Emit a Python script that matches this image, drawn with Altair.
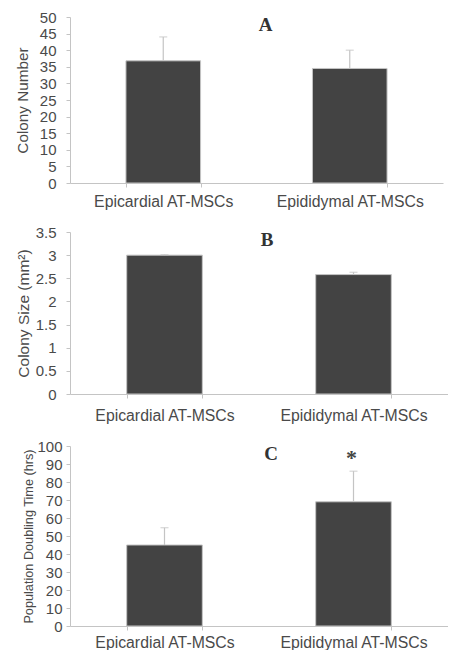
import altair as alt
import pandas as pd

categories = ["Epicardial AT-MSCs", "Epididymal AT-MSCs"]

colony_number = [36.8, 34.5]
colony_number_err = [7.2, 5.5]

colony_size = [3.0, 2.58]
colony_size_err = [0.01, 0.05]

doubling_time = [45, 69]
doubling_time_err = [9.6, 17]
significance = ["", "*"]

y_ticks_a = [0, 5, 10, 15, 20, 25, 30, 35, 40, 45, 50]
y_ticks_b = [0, 0.5, 1, 1.5, 2, 2.5, 3, 3.5]
y_ticks_c = [0, 10, 20, 30, 40, 50, 60, 70, 80, 90, 100]

FONT = "Liberation Sans"
BAR = "#434343"
LIGHT = "#c4c4c4"
TEXT = "#4a4a4a"


def panel(values, errs, ticks, ytitle, letter, w, h, title_size, ylpad, ytpad,
          xpad, tdx, marks=None):
    df = pd.DataFrame({
        "cat": categories,
        "val": values,
        "top": [v + e for v, e in zip(values, errs)],
    })
    if marks is not None:
        df["mark"] = marks
        df["mark_y"] = [ticks[-1] * 0.955] * len(values)
    xenc = alt.X("cat:N", sort=categories,
                 scale=alt.Scale(paddingInner=0.6, paddingOuter=0.3),
                 axis=alt.Axis(title=None, labelAngle=0, tickBand="extent",
                               tickSize=4, labelPadding=xpad, labelFontSize=15.8))
    yscale = alt.Scale(domain=[ticks[0], ticks[-1]], nice=False)
    yaxis = alt.Axis(values=ticks, format="~f", title=ytitle,
                     titleFontSize=title_size, titleFontWeight="normal",
                     titleColor=TEXT, titleFont=FONT, tickSize=4,
                     labelPadding=ylpad, titlePadding=ytpad, labelFontSize=15,
                     labelOverlap=False)
    base = alt.Chart(df)
    bars = base.mark_bar(color=BAR, stroke=LIGHT, strokeWidth=1).encode(
        x=xenc, y=alt.Y("val:Q", scale=yscale, axis=yaxis),
    )
    rule = base.mark_rule(color=LIGHT, strokeWidth=1.2).encode(
        x=alt.X("cat:N", sort=categories),
        y=alt.Y("val:Q", scale=yscale, axis=yaxis), y2="top:Q")
    cap = base.mark_tick(color=LIGHT, thickness=1.2, size=8, orient="horizontal").encode(
        x=alt.X("cat:N", sort=categories), y=alt.Y("top:Q", scale=yscale, axis=yaxis))
    layers = [bars, rule, cap]
    if marks is not None:
        star = base.mark_text(font="Liberation Serif", fontSize=22, fontWeight="bold",
                              color="#444", baseline="middle", dy=4, dx=-2).encode(
            x=alt.X("cat:N", sort=categories),
            y=alt.Y("mark_y:Q", scale=yscale, axis=yaxis), text="mark:N")
        layers.append(star)
    return alt.layer(*layers).properties(
        width=w, height=h,
        title=alt.TitleParams(letter, font="Liberation Serif", fontSize=19,
                              fontWeight="bold", color="#333", anchor="middle",
                              frame="group", dx=tdx, offset=-25),
    )


a = panel(colony_number, colony_number_err, y_ticks_a, "Colony Number", "A",
          373, 166, 15.3, 10, 9, 7, 9)
b = panel(colony_size, colony_size_err, y_ticks_b, "Colony Size (mm²)", "B",
          378, 162, 15.5, 10, 4, 10, 8)
c = panel(doubling_time, doubling_time_err, y_ticks_c, "Population Doubling Time (hrs)", "C",
          378, 180, 12.7, 4, 1, 5, 12, marks=significance)

chart = alt.vconcat(a, b, c, spacing=16).properties(
    padding={"left": 7, "top": 2, "right": 0, "bottom": 0}
).configure_view(stroke=None).configure_axis(
    grid=False, domainColor=LIGHT, tickColor=LIGHT, labelColor=TEXT,
    labelFont=FONT, titleFont=FONT,
).configure_concat(spacing=16)

chart.save("out.html", embed_options={"renderer": "svg", "actions": False})
